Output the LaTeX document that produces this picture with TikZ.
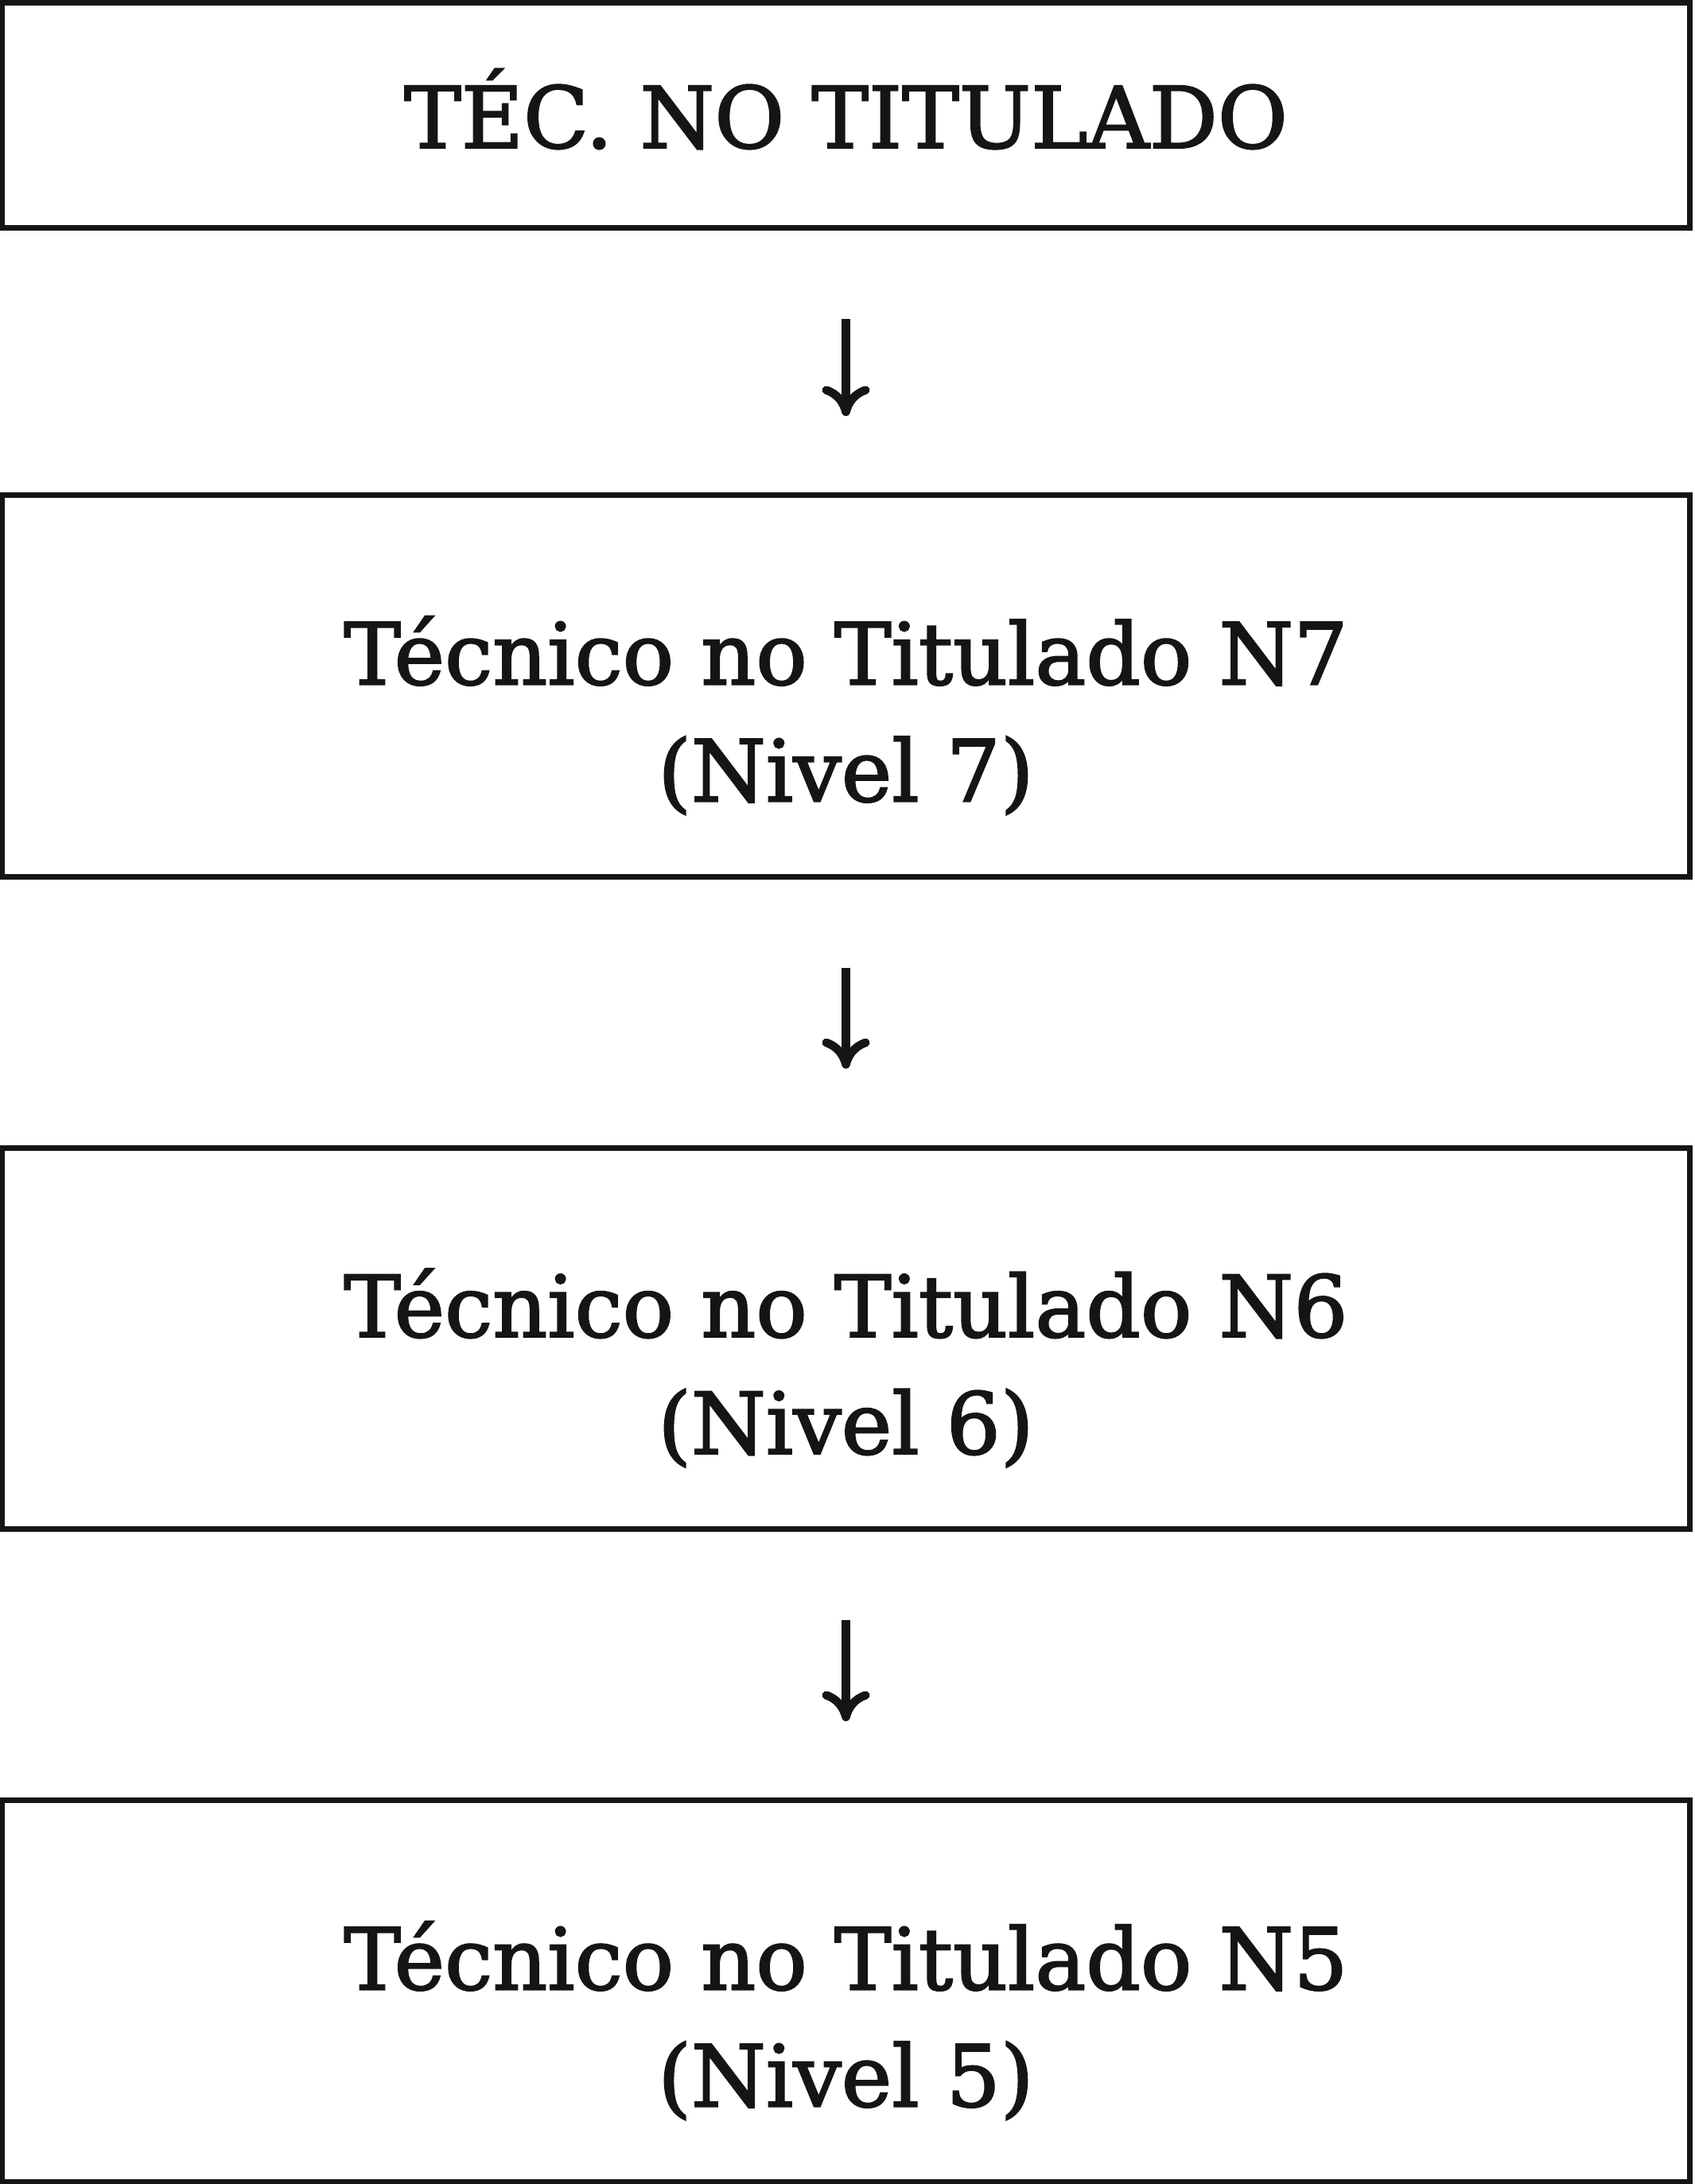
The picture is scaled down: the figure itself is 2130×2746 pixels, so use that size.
\documentclass[tikz,border=0pt]{standalone}
\usepackage{fontspec}
\setmainfont{DejaVu Serif}[RawFeature={embolden=2}]
\usetikzlibrary{arrows.meta,positioning}
\definecolor{ink}{RGB}{21,21,21}

\begin{document}
\begin{tikzpicture}[x=0.01cm,y=-0.01cm,
  every node/.style={draw=ink,line width=2pt,rectangle,outer sep=0pt,
  minimum width=21.2cm,align=center,text=ink,
  font=\fontsize{30.5}{41.8}\selectfont},
  titlebox/.style={minimum height=2.83cm,text height=1cm,text depth=0.18cm},
  levelbox/.style={minimum height=4.79cm,text height=3.1cm,text depth=0.2cm},
  nextlevel/.style={draw=ink,line width=3pt,
  -{Computer Modern Rightarrow[length=3.8mm,width=6mm]},
  shorten <=1.145cm,shorten >=0.995cm},
]
\useasboundingbox (0,0) rectangle (2130,2746);

% the boxes
\node[titlebox] (tec) at (1063.5,145) {TÉC. NO TITULADO};
\node[levelbox,below=3.36cm of tec] (n7) {Técnico no Titulado N7\\(Nivel 7)};
\node[levelbox,below=3.41cm of n7] (n6) {Técnico no Titulado N6\\(Nivel 6)};
\node[levelbox,below=3.41cm of n6] (n5) {Técnico no Titulado N5\\(Nivel 5)};

% the arrows
\draw[nextlevel] (tec) -- (n7);
\draw[nextlevel] (n7) -- (n6);
\draw[nextlevel] (n6) -- (n5);
\end{tikzpicture}
\end{document}
